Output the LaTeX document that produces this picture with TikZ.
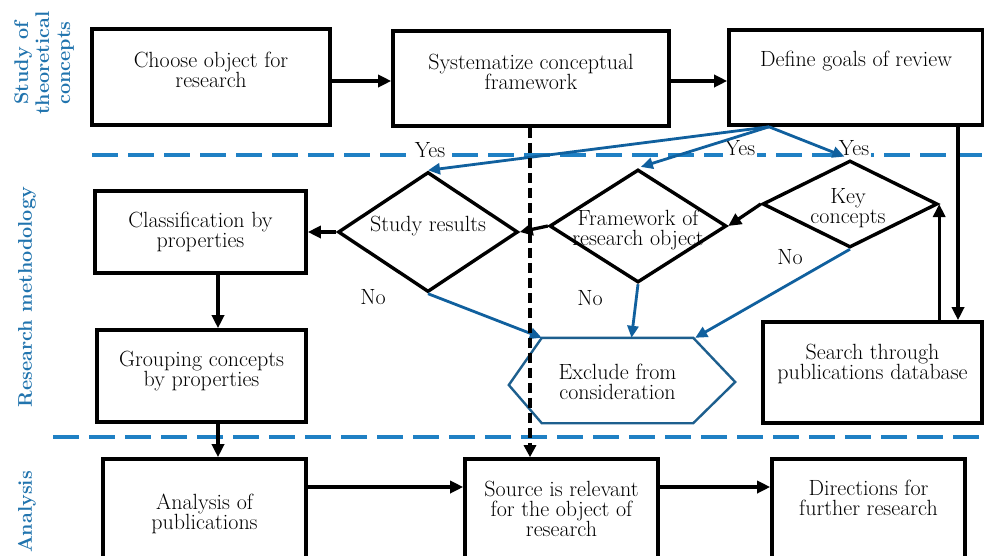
\documentclass[tikz,border=0pt]{standalone}
\usepackage{fontspec}
\usetikzlibrary{arrows.meta,shapes.geometric,calc}
\definecolor{dashblue}{HTML}{1F80C4}
\definecolor{arrblue}{HTML}{10609E}
\definecolor{hexblue}{HTML}{1D5F8E}
\definecolor{lblblue}{HTML}{2174AE}
\tikzset{
 box/.style={draw=black, line width=3.6pt, rectangle, inner sep=0pt},
 dia/.style={draw=black, line width=3.4pt, diamond, inner sep=0pt},
 txt/.style={align=center, inner sep=0pt, font=\fontsize{22}{20}\selectfont},
 lab/.style={inner sep=1.5pt, font=\fontsize{22}{20}\selectfont},
 side/.style={rotate=90, align=center, text=lblblue, inner sep=0pt, font=\bfseries\fontsize{19.8}{21}\selectfont},
 arr/.style={line width=3.3pt, -{Triangle[length=13pt,width=12pt]}},
 barr/.style={draw=arrblue, line width=2.8pt, -{Triangle[length=12pt,width=11pt]}},
 sep/.style={draw=dashblue, line width=4pt, dash pattern=on 26pt off 10pt},
 vdash/.style={line width=3.2pt, dash pattern=on 10pt off 5pt, -{Triangle[length=12pt,width=12pt]}},
}
\begin{document}
\begin{tikzpicture}[x=1pt,y=-1pt]
\clip (0,0) rectangle (984,555);
\fill[white] (0,0) rectangle (984,555);
% separators
\draw[sep] (92,155) -- (984,155);
\draw[sep] (53,437) -- (984,437);
% yes / no labels
\node[lab, fill=white] (y1) at (430,150) {Yes};
\node[lab, fill=white] (y2) at (740,148) {Yes};
\node[lab, fill=white] (y3) at (854,148) {Yes};
\node[lab] (n1) at (373,297) {No};
\node[lab] (n2) at (590,298) {No};
\node[lab] (n3) at (790,257) {No};
% boxes
\node[box, minimum width=238, minimum height=96] (b1) at (211,77) {};
\node[box, minimum width=276, minimum height=95] (b2) at (531,78.5) {};
\node[box, minimum width=254, minimum height=95] (b3) at (856,77.5) {};
\node[box, minimum width=211, minimum height=82] (cls) at (200.5,232) {};
\node[box, minimum width=209, minimum height=92] (grp) at (201.5,376) {};
\node[box, minimum width=219, minimum height=101] (srch) at (872.5,372.5) {};
\node[box, minimum width=203, minimum height=116] (ana) at (204.5,517) {};
\node[box, minimum width=193, minimum height=116] (src) at (561.5,517) {};
\node[box, minimum width=193, minimum height=116] (dir) at (868.5,517) {};
% diamonds
\node[dia, minimum width=180, minimum height=120] (sr) at (428,232) {};
\node[dia, minimum width=177, minimum height=113] (fw) at (638,226) {};
\node[dia, minimum width=175, minimum height=87] (kc) at (850,204) {};
% hexagon
\node[inner sep=0pt, minimum width=151, minimum height=85] (ex) at (617.5,380.5) {};
\draw[hexblue, line width=2.4pt] (ex.north west) -- (ex.north east) -- ([xshift=42,yshift=-1.5]ex.east) -- (ex.south east) -- (ex.south west) -- ([xshift=-33,yshift=-4.5]ex.west) -- cycle;
% texts
\node[txt] (t1) at (211,70) {Choose object for\\research};
\node[txt] (t2) at (531,72) {Systematize conceptual\\framework};
\node[txt] (t3) at (856,61) {Define goals of review};
\node[txt] (tcls) at (200.5,232) {Classification by\\properties};
\node[txt] (tgrp) at (201.5,371) {Grouping concepts\\by properties};
\node[txt] (tsrch) at (872.5,364) {Search through\\publications database};
\node[txt] (tana) at (204.5,514) {Analysis of\\publications};
\node[txt] (tsrc) at (561.5,509) {Source is relevant\\for the object of\\research};
\node[txt] (tdir) at (868.5,498) {Directions for\\further research};
\node[txt] (tex) at (617.5,382) {Exclude from\\consideration};
\node[txt] (tsr) at (428,226) {Study results};
\node[txt] (tfw) at (638,230) {Framework of\\research object};
\node[txt] (tkc) at (848,208) {Key\\concepts};
% side labels
\node[side] (l1) at (44,63) {Study of\\theoretical\\concepts};
\node[side] (l2) at (27,297) {Research methodology};
\node[side] (l3) at (27,512) {Analysis};
% black arrows
\draw[arr] ([yshift=-4]b1.east) -- ([yshift=-4]b1.east -| b2.west);
\draw[arr] ([yshift=-2.5]b2.east) -- ([yshift=-2.5]b2.east -| b3.west);
\draw[arr] (kc.west) -- (fw.east);
\draw[arr] (fw.west) -- (sr.east);
\draw[arr] (sr.west) -- (cls.east);
\draw[arr] ([xshift=102]b3.south) -- ([xshift=102]b3.south |- srch.north);
\draw[arr] (srch.north -| kc.east) -- (kc.east);
\draw[arr] ([xshift=17.5]cls.south) -- ([xshift=17.5]cls.south |- grp.north);
\draw[arr] ([xshift=16.5]grp.south) -- ([xshift=16.5]grp.south |- ana.north);
\draw[arr] ([yshift=30]ana.east) -- ([yshift=30]ana.east -| src.west);
\draw[arr] ([yshift=30]src.east) -- ([yshift=30]src.east -| dir.west);
% blue arrows
\coordinate (s0) at ([xshift=-87]b3.south);
\draw[barr] (s0) -- (sr.north);
\draw[barr, shorten >=3pt] (s0) -- (fw.north);
\draw[barr, shorten >=6pt] (s0) -- (kc.north);
\draw[barr] (sr.south) -- (ex.north west);
\draw[barr] (fw.south) -- ([xshift=14]ex.north);
\draw[barr] (kc.south) -- ([xshift=2]ex.north east);
% dashed vertical
\draw[vdash] ([xshift=-1]b2.south) -- ([xshift=-1]b2.south |- src.north);
\end{tikzpicture}
\end{document}
